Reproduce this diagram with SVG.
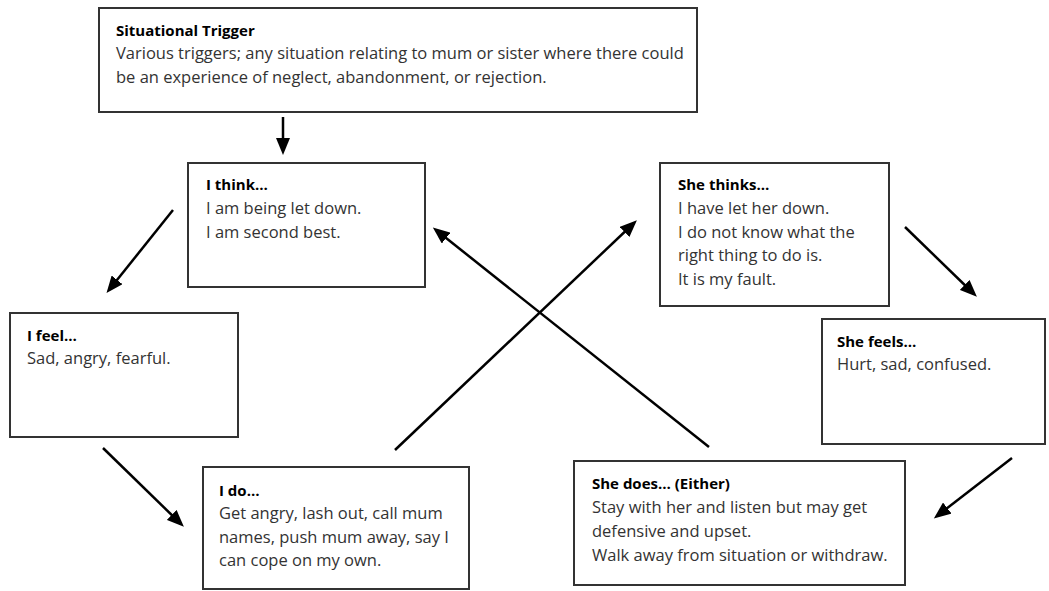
<svg xmlns="http://www.w3.org/2000/svg" width="1049" height="591" viewBox="0 0 1049 591">
<style>
.box{fill:#fff;stroke:#333;stroke-width:2}
.t{font-family:"Open Sans","Liberation Sans",Arial,sans-serif;font-size:16.5px;fill:#333}
.h{font-weight:bold;fill:#000;font-size:15px}
.c{stroke:#000;stroke-width:2.5;fill:none;marker-end:url(#ah)}
</style>
<defs>
<marker id="ah" markerUnits="userSpaceOnUse" markerWidth="18" markerHeight="14" refX="13" refY="7" orient="auto" viewBox="0 0 18 14">
<path d="M0,0 L17,7 L0,14 z" fill="#000"/>
</marker>
</defs>
<rect width="1049" height="591" fill="#fff"/>
<g id="trigger">
<rect class="box" x="99" y="8" width="598" height="104"/>
<text class="t h" x="116" y="36">Situational Trigger</text>
<text class="t" x="116" y="59">Various triggers; any situation relating to mum or sister where there could</text>
<text class="t" x="116" y="83">be an experience of neglect, abandonment, or rejection.</text>
</g>
<g id="i-think">
<rect class="box" x="188" y="163" width="237" height="124"/>
<text class="t h" x="206" y="190">I think…</text>
<text class="t" x="206" y="214">I am being let down.</text>
<text class="t" x="206" y="238">I am second best.</text>
</g>
<g id="she-thinks">
<rect class="box" x="660" y="163" width="229" height="143"/>
<text class="t h" x="678" y="190">She thinks…</text>
<text class="t" x="678" y="214">I have let her down.</text>
<text class="t" x="678" y="238">I do not know what the</text>
<text class="t" x="678" y="261">right thing to do is.</text>
<text class="t" x="678" y="285">It is my fault.</text>
</g>
<g id="i-feel">
<rect class="box" x="10" y="313" width="228" height="124"/>
<text class="t h" x="27" y="341">I feel…</text>
<text class="t" x="27" y="364">Sad, angry, fearful.</text>
</g>
<g id="she-feels">
<rect class="box" x="822" y="319" width="223" height="125"/>
<text class="t h" x="837" y="347">She feels…</text>
<text class="t" x="837" y="370">Hurt, sad, confused.</text>
</g>
<g id="i-do">
<rect class="box" x="203" y="467" width="266" height="122"/>
<text class="t h" x="219" y="496">I do…</text>
<text class="t" x="219" y="519">Get angry, lash out, call mum</text>
<text class="t" x="219" y="543">names, push mum away, say I</text>
<text class="t" x="219" y="566">can cope on my own.</text>
</g>
<g id="she-does">
<rect class="box" x="574" y="461" width="331" height="124"/>
<text class="t h" x="592" y="489">She does… (Either)</text>
<text class="t" x="592" y="513">Stay with her and listen but may get</text>
<text class="t" x="592" y="537">defensive and upset.</text>
<text class="t" x="592" y="561">Walk away from situation or withdraw.</text>
</g>
<g id="connectors">
<line class="c" x1="283" y1="117" x2="283" y2="151"/>
<line class="c" x1="173" y1="210" x2="109" y2="290"/>
<line class="c" x1="103" y1="448" x2="181" y2="524"/>
<line class="c" x1="395" y1="450" x2="634" y2="223"/>
<line class="c" x1="709" y1="447" x2="436" y2="230"/>
<line class="c" x1="905" y1="227" x2="974" y2="294"/>
<line class="c" x1="1012" y1="458" x2="937" y2="516"/>
</g>
</svg>
